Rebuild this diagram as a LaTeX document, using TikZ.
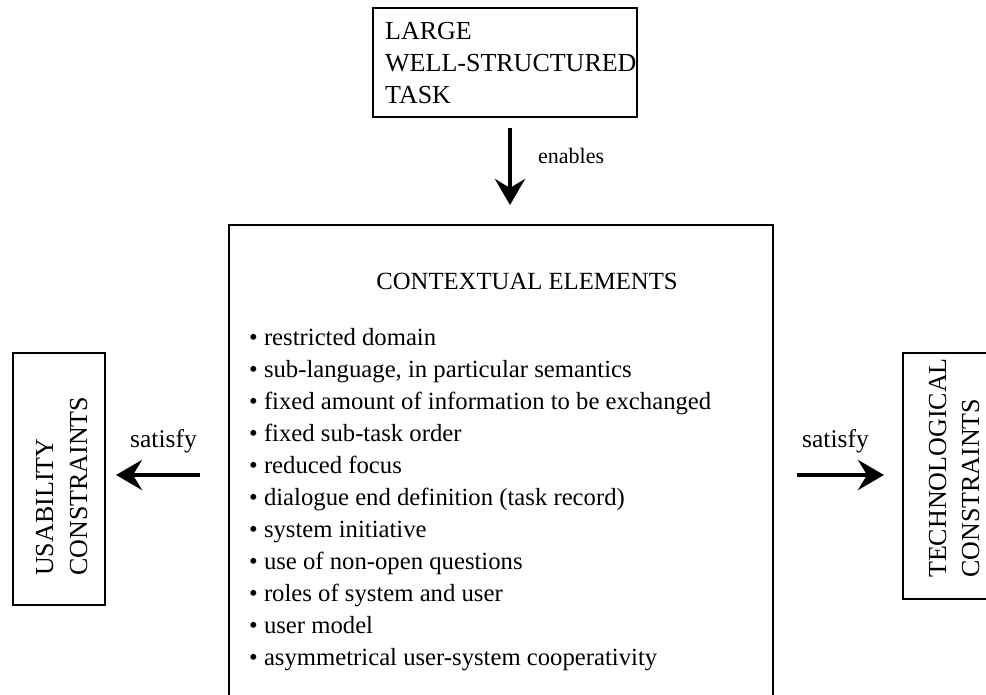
\documentclass[tikz,border=0pt]{standalone}
\usepackage{fontspec}
\setmainfont{Liberation Serif}
\usetikzlibrary{arrows.meta}
\tikzset{
  boxline/.style={draw=black, line width=2pt},
  txt/.style={inner sep=0pt, anchor=base west, font=\fontsize{24.7}{32}\selectfont},
  bigtxt/.style={txt, font=\fontsize{26}{32}\selectfont},
  lbltxt/.style={txt, font=\fontsize{25.5}{32}\selectfont},
  smalltxt/.style={txt, font=\fontsize{22}{32}\selectfont},
  bigarrow/.style={line width=4pt, -{Stealth[length=26pt, width=30pt, inset=9pt]}, shorten >=-2pt}
}
\begin{document}
\begin{tikzpicture}[x=1pt,y=-1pt]
\useasboundingbox (0,0) rectangle (986,695);
\clip (0,0) rectangle (986,695);
% top box
\draw[boxline] (373,8) rectangle (637,117);
\node[bigtxt] (t1) at (385,40) {LARGE};
\node[bigtxt] (t2) at (385,72) {WELL-STRUCTURED};
\node[bigtxt] (t3) at (385,104) {TASK};
% enables arrow
\coordinate (ea) at (510,128);
\coordinate (eb) at (510,203);
\draw[bigarrow] (ea) -- (eb);
\node[smalltxt] (en) at (538,164) {enables};
% main box
\draw[boxline] (229,225) rectangle (773,720);
\node[txt, anchor=base] (title) at (527,290) {CONTEXTUAL ELEMENTS};
\foreach \t [count=\i from 0] in {restricted domain, {sub-language, in particular semantics}, fixed amount of information to be exchanged, fixed sub-task order, reduced focus, dialogue end definition (task record), system initiative, use of non-open questions, roles of system and user, user model, asymmetrical user-system cooperativity}{
  \node[txt] (item\i) at (249,345+32*\i) {\textbullet\ \t};
}
% left box
\draw[boxline] (13,353) rectangle (105,605);
\node[bigtxt, rotate=90] (u1) at (53,576) {USABILITY};
\node[bigtxt, rotate=90] (u2) at (87,576) {CONSTRAINTS};
\coordinate (la) at (200,475);
\coordinate (lb) at (118,475);
\draw[bigarrow] (la) -- (lb);
\node[lbltxt] (ls) at (130,447) {satisfy};
% right box
\draw[boxline] (903,353) rectangle (1010,599);
\node[bigtxt, rotate=90] (r1) at (946,578) {TECHNOLOGICAL};
\node[bigtxt, rotate=90] (r2) at (979,578) {CONSTRAINTS};
\coordinate (ra) at (797,475);
\coordinate (rb) at (882,475);
\draw[bigarrow] (ra) -- (rb);
\node[lbltxt] (rs) at (802,447) {satisfy};
\end{tikzpicture}
\end{document}
